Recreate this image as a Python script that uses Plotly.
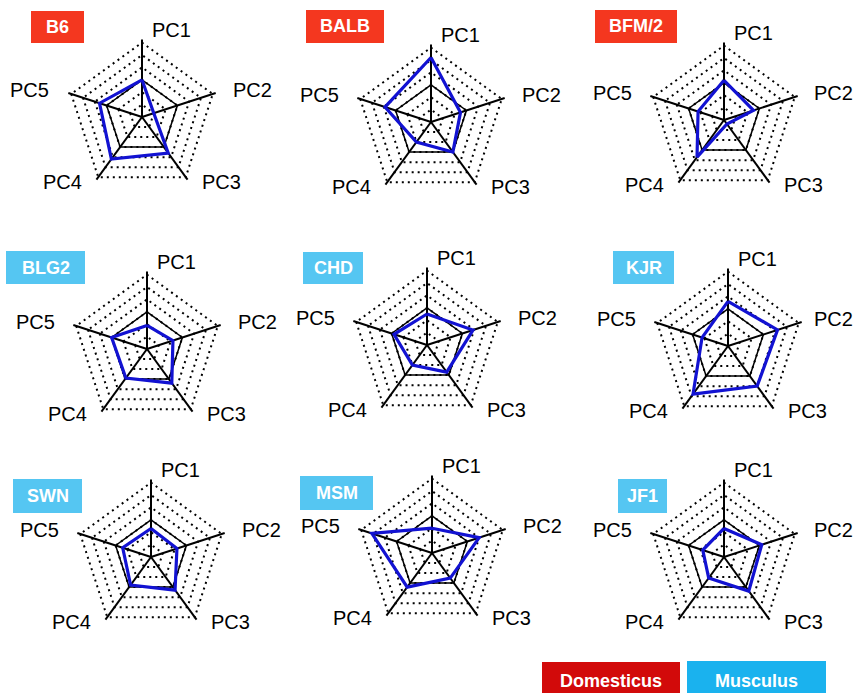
import plotly.graph_objects as go

# ---------------- data ----------------
AXES = ["PC1", "PC2", "PC3", "PC4", "PC5"]
STRAINS = ["B6", "BALB", "BFM/2", "BLG2", "CHD", "KJR", "SWN", "MSM", "JF1"]
SUBSPECIES = ["Domesticus", "Domesticus", "Domesticus",
              "Musculus", "Musculus", "Musculus",
              "Musculus", "Musculus", "Musculus"]

B6 = [3.0, 1.0, 3.6, 4.2, 3.6]
BALB = [5.2, 2.5, 3.0, 2.0, 3.9]
BFM2 = [3.2, 2.5, 0.4, 3.7, 2.2]
BLG2 = [1.9, 2.2, 3.4, 2.9, 3.0]
CHD = [2.5, 3.9, 2.7, 2.0, 2.8]
KJR = [3.6, 4.2, 4.0, 4.8, 2.2]
SWN = [2.3, 2.2, 3.3, 2.8, 2.4]
MSM = [2.0, 4.0, 2.5, 3.4, 5.1]
JF1 = [2.3, 3.2, 3.4, 2.1, 1.8]
SCORES = [B6, BALB, BFM2, BLG2, CHD, KJR, SWN, MSM, JF1]

REFERENCE = [3, 3, 3, 3, 3]          # solid reference pentagon
GRID_LEVELS = [1, 2, 3, 4, 5, 6]     # dotted rings
LEGEND = ["Domesticus", "Musculus"]

# ---------------- styling / layout ----------------
W, H = 854, 693
FONT = "Liberation Sans, Arial, sans-serif"
BLUE = "#1212D2"
PANEL_COLORS = {"Domesticus": "#F4371F", "Musculus": "#55C6F2"}
LEGEND_COLORS = {"Domesticus": "#D20A0A", "Musculus": "#1AB2EE"}

# panel centers (px) and half-size of each polar domain (px)
CENTERS = [(142, 117), (431, 122), (724, 120),
           (147, 349), (427, 345), (728, 346),
           (151, 557), (432, 553), (724, 557)]
R_PX = 77.5
R_MAX = 6.25

# title boxes (x0, x1, y0, y1) px
BOXES = [(31, 84, 11, 43), (306, 384, 10, 43), (595, 677, 10, 43),
         (6, 85, 251, 284), (303, 363, 252, 284), (613, 674, 251, 284),
         (13, 82, 479, 513), (300, 373, 476, 510), (618, 667, 479, 513)]

# axis-label offsets from center (px)
LABEL_OFFSETS = [(29, -87), (110, -27), (79, 65), (-80, 65), (-112, -27)]
LABEL_HALF_W = 20

LEGEND_BOXES = [(542, 680, 662, 700), (687, 826, 661, 700)]


def px(x):
    return x / W


def py(y):
    return 1 - y / H


fig = go.Figure()
shapes = []
annotations = []

for i, (name, vals) in enumerate(zip(STRAINS, SCORES)):
    pid = "polar" if i == 0 else f"polar{i + 1}"
    cx, cy = CENTERS[i]
    theta_closed = AXES + [AXES[0]]

    fig.add_trace(go.Scatterpolar(
        r=REFERENCE + [REFERENCE[0]], theta=theta_closed, mode="lines",
        line=dict(color="black", width=1.5), subplot=pid,
        showlegend=False, hoverinfo="skip"))
    fig.add_trace(go.Scatterpolar(
        r=vals + [vals[0]], theta=theta_closed, mode="lines",
        line=dict(color=BLUE, width=3.2), subplot=pid,
        name=name, showlegend=False))

    fig.update_layout(**{pid: dict(
        domain=dict(x=[px(cx - R_PX), px(cx + R_PX)],
                    y=[py(cy + R_PX), py(cy - R_PX)]),
        gridshape="linear",
        bgcolor="white",
        radialaxis=dict(range=[0, R_MAX], tickvals=GRID_LEVELS,
                        showticklabels=False, ticks="", showline=False,
                        gridcolor="black", gridwidth=1.5, griddash="2px,4px"),
        angularaxis=dict(type="category", categoryarray=AXES,
                         direction="clockwise", rotation=90,
                         showticklabels=False, ticks="", showline=False,
                         gridcolor="black", gridwidth=1.5),
    )})

    for lab, (dx, dy) in zip(AXES, LABEL_OFFSETS):
        lx = min(cx + dx, W - LABEL_HALF_W - 1)
        annotations.append(dict(
            x=px(lx), y=py(cy + dy), xref="paper", yref="paper",
            text=lab, showarrow=False, xanchor="center", yanchor="middle",
            font=dict(family=FONT, size=20, color="black")))

    x0, x1, y0, y1 = BOXES[i]
    col = PANEL_COLORS[SUBSPECIES[i]]
    shapes.append(dict(type="rect", xref="paper", yref="paper",
                       x0=px(x0), x1=px(x1), y0=py(y1), y1=py(y0),
                       fillcolor=col, line=dict(width=0), layer="below"))
    annotations.append(dict(
        x=px((x0 + x1) / 2), y=py((y0 + y1) / 2), xref="paper", yref="paper",
        text=f"<b>{name}</b>", showarrow=False, xanchor="center",
        yanchor="middle", font=dict(family=FONT, size=18, color="white")))

for lab, (x0, x1, y0, y1) in zip(LEGEND, LEGEND_BOXES):
    shapes.append(dict(type="rect", xref="paper", yref="paper",
                       x0=px(x0), x1=px(x1), y0=py(y1), y1=py(y0),
                       fillcolor=LEGEND_COLORS[lab], line=dict(width=0),
                       layer="below"))
    annotations.append(dict(
        x=px((x0 + x1) / 2), y=py(681), xref="paper", yref="paper",
        text=f"<b>{lab}</b>", showarrow=False, xanchor="center",
        yanchor="middle", font=dict(family=FONT, size=18, color="white")))

fig.update_layout(
    width=W, height=H,
    margin=dict(l=0, r=0, t=0, b=0),
    paper_bgcolor="white", plot_bgcolor="white",
    shapes=shapes, annotations=annotations,
    showlegend=False,
)

fig.write_html(
    "out.html",
    config={"displayModeBar": False},
    post_script="document.body.style.margin='0px';"
                "document.body.style.overflow='hidden';",
)
